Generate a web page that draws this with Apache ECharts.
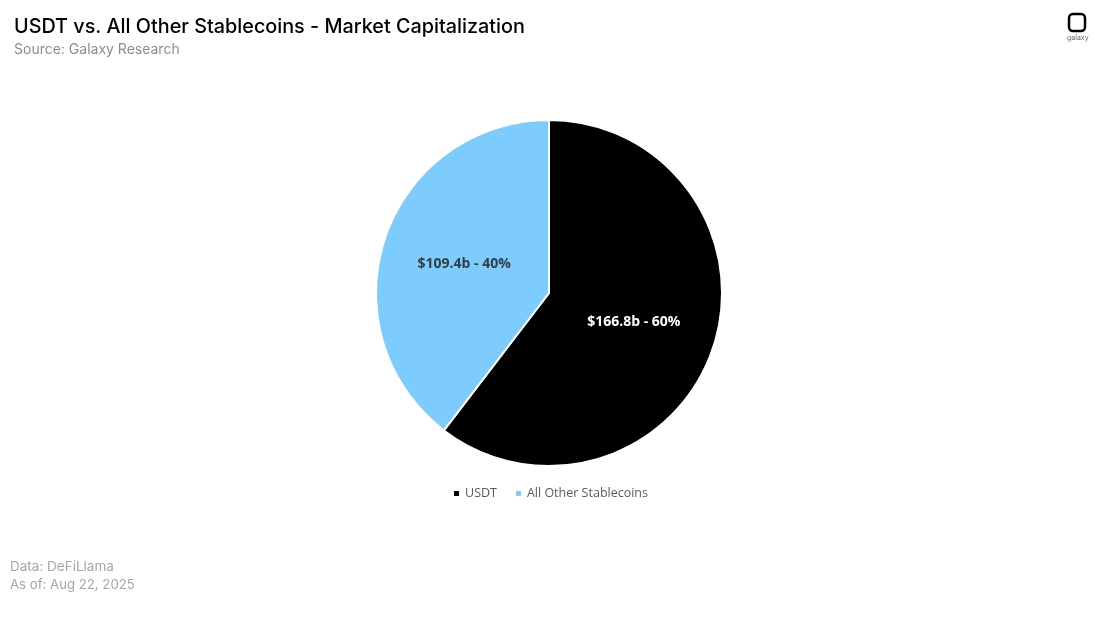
<!DOCTYPE html>
<html><head><meta charset="utf-8">
<script src="https://cdn.jsdelivr.net/npm/echarts@6/dist/echarts.min.js"></script>
<style>html,body{margin:0;padding:0;background:#fff}#c{width:1100px;height:618px}</style>
</head><body><div id="c"></div>
<script>
const categories = ['USDT', 'All Other Stablecoins'];
const values = [166.8, 109.4];
const labelsText = ['$166.8b - 60%', '$109.4b - 40%'];
const colors = ['#000000', '#7ecbfd'];
const labelColors = ['#ffffff', '#333f48'];

const chart = echarts.init(document.getElementById('c'));
chart.setOption({
  backgroundColor: '#ffffff',
  animation: false,
  title: [
    {text: 'USDT vs. All Other Stablecoins - Market Capitalization', left: 9, top: 12,
     textStyle: {fontFamily: 'Inter', fontSize: 19.8, fontWeight: 500, color: '#000'}},
    {text: 'Source: Galaxy Research', left: 9, top: 38,
     textStyle: {fontFamily: 'Inter', fontSize: 14, fontWeight: 400, color: '#8c8c8c'}},
    {text: 'Data: DeFiLlama', left: 5, top: 555,
     textStyle: {fontFamily: 'Inter', fontSize: 13.5, fontWeight: 400, color: '#a6a6a6'}},
    {text: 'As of: Aug 22, 2025', left: 5, top: 574,
     textStyle: {fontFamily: 'Inter', fontSize: 13.2, fontWeight: 400, color: '#a6a6a6'}}
  ],
  graphic: [
    {type: 'rect', shape: {x: 1069, y: 14, width: 16, height: 17, r: 4},
     style: {fill: 'none', stroke: '#000', lineWidth: 2.5}},
    {type: 'text', left: 1067, top: 34, style: {text: 'galaxy', fontSize: 7, fill: '#666', fontFamily: 'Inter'}}
  ],
  legend: {
    data: categories, left: 'center', top: 482,
    icon: 'rect', itemWidth: 7, itemHeight: 7, itemGap: 17,
    textStyle: {fontFamily: 'Open Sans', fontSize: 12.5, color: '#595959'}
  },
  series: [{
    type: 'pie',
    center: [549, 293],
    radius: [0, 173],
    startAngle: 90,
    clockwise: true,
    data: categories.map((c, i) => ({
      name: c, value: values[i],
      itemStyle: {color: colors[i]},
      label: {color: labelColors[i]}
    })),
    itemStyle: {borderColor: '#ffffff', borderWidth: 2},
    label: {
      show: true, position: 'inner',
      formatter: p => labelsText[p.dataIndex],
      fontFamily: 'Open Sans', fontSize: 14, fontWeight: 'bold'
    },
    labelLine: {show: false},
    emphasis: {disabled: true}
  }]
});
</script></body></html>
